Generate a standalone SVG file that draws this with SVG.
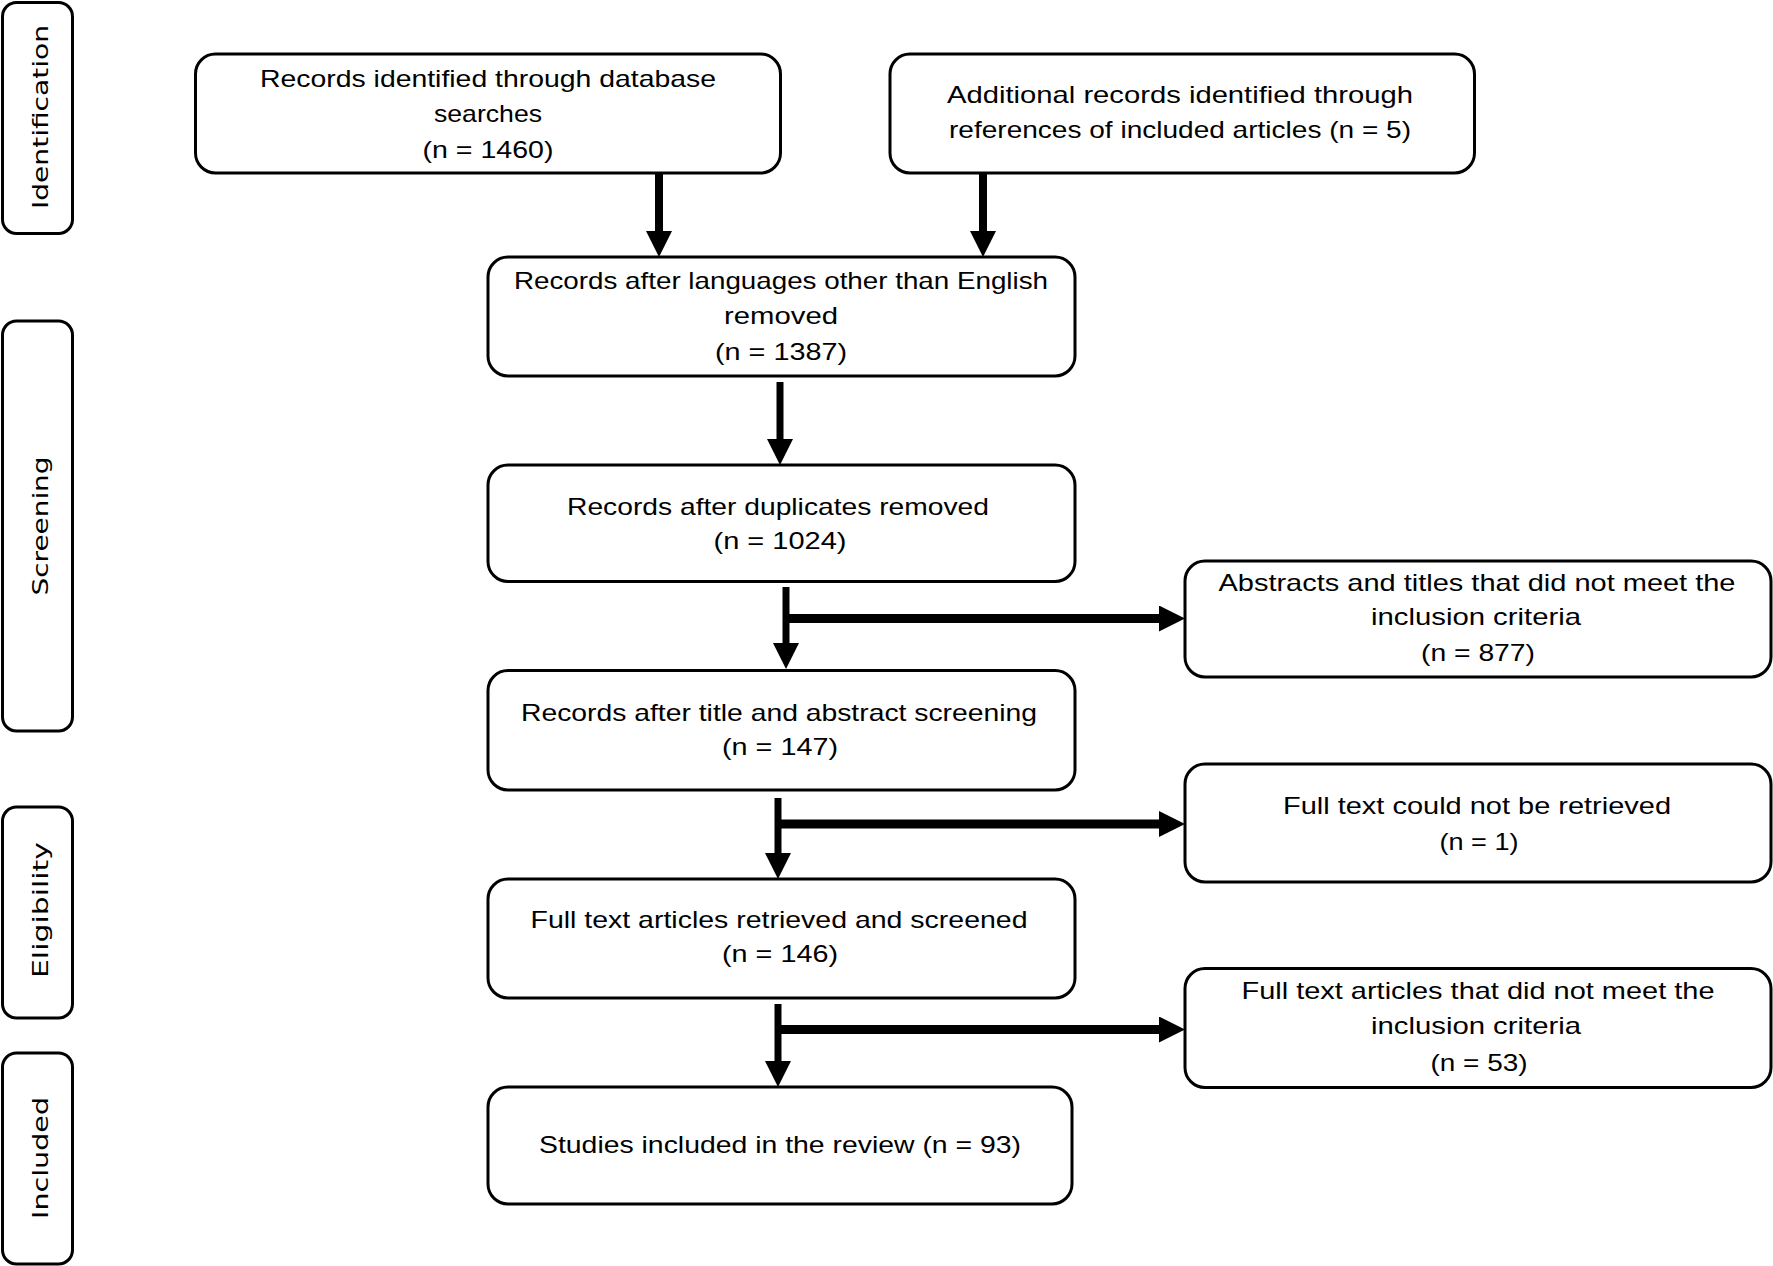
<svg xmlns="http://www.w3.org/2000/svg" width="1773" height="1266" viewBox="0 0 1773 1266">
<style>
.box{fill:#fff;stroke:#000;stroke-width:3}
.side{fill:#fff;stroke:#000;stroke-width:3}
.t{font-family:"Liberation Sans",Arial,sans-serif;font-size:24px;fill:#000;text-anchor:middle}
.s{font-family:"DejaVu Sans",Verdana,sans-serif;font-size:21px;fill:#000;text-anchor:middle}
.c{stroke:#000;fill:none}
</style>
<defs>
<marker id="ah" markerUnits="userSpaceOnUse" markerWidth="27" markerHeight="27" refX="6" refY="13" orient="auto" viewBox="0 0 27 27">
<path d="M0,0 L26,13 L0,26 z" fill="#000"/>
</marker>
</defs>
<rect width="1773" height="1266" fill="#fff"/>

<g id="side-identification">
<rect class="side" x="2.5" y="2.5" width="70" height="231" rx="14"/>
<text class="s" transform="translate(48,117) rotate(-90)" textLength="184" lengthAdjust="spacingAndGlyphs">Identification</text>
</g>
<g id="side-screening">
<rect class="side" x="2.5" y="321" width="70" height="410" rx="14"/>
<text class="s" transform="translate(48,526) rotate(-90)" textLength="139" lengthAdjust="spacingAndGlyphs">Screening</text>
</g>
<g id="side-eligibility">
<rect class="side" x="2.5" y="807" width="70" height="211" rx="14"/>
<text class="s" transform="translate(48,910) rotate(-90)" textLength="136" lengthAdjust="spacingAndGlyphs">Eligibility</text>
</g>
<g id="side-included">
<rect class="side" x="2.5" y="1053" width="70" height="211" rx="14"/>
<text class="s" transform="translate(48,1158) rotate(-90)" textLength="122" lengthAdjust="spacingAndGlyphs">Included</text>
</g>

<g id="connectors">
<line class="c" x1="659" y1="173" x2="659" y2="237" stroke-width="8" marker-end="url(#ah)"/>
<line class="c" x1="983" y1="173" x2="983" y2="237" stroke-width="8" marker-end="url(#ah)"/>
<line class="c" x1="780" y1="382" x2="780" y2="445" stroke-width="7" marker-end="url(#ah)"/>
<line class="c" x1="786" y1="587" x2="786" y2="649" stroke-width="7" marker-end="url(#ah)"/>
<line class="c" x1="786" y1="618.5" x2="1165" y2="618.5" stroke-width="9" marker-end="url(#ah)"/>
<line class="c" x1="778" y1="798" x2="778" y2="859" stroke-width="7" marker-end="url(#ah)"/>
<line class="c" x1="778" y1="824" x2="1165" y2="824" stroke-width="9" marker-end="url(#ah)"/>
<line class="c" x1="778" y1="1004" x2="778" y2="1067" stroke-width="7" marker-end="url(#ah)"/>
<line class="c" x1="778" y1="1029.5" x2="1165" y2="1029.5" stroke-width="9" marker-end="url(#ah)"/>
</g>

<g id="node-database">
<rect class="box" x="195.5" y="54" width="585" height="119" rx="20"/>
<text class="t" x="488" y="87" textLength="456" lengthAdjust="spacingAndGlyphs">Records identified through database</text>
<text class="t" x="488" y="122" textLength="108" lengthAdjust="spacingAndGlyphs">searches</text>
<text class="t" x="488" y="158" textLength="131" lengthAdjust="spacingAndGlyphs">(n = 1460)</text>
</g>
<g id="node-additional">
<rect class="box" x="890" y="54" width="584.5" height="119" rx="20"/>
<text class="t" x="1180" y="103" textLength="466" lengthAdjust="spacingAndGlyphs">Additional records identified through</text>
<text class="t" x="1180" y="138" textLength="462" lengthAdjust="spacingAndGlyphs">references of included articles (n = 5)</text>
</g>
<g id="node-languages">
<rect class="box" x="488" y="257" width="587" height="119" rx="20"/>
<text class="t" x="781" y="289" textLength="534" lengthAdjust="spacingAndGlyphs">Records after languages other than English</text>
<text class="t" x="781" y="324" textLength="114" lengthAdjust="spacingAndGlyphs">removed</text>
<text class="t" x="781" y="360" textLength="132" lengthAdjust="spacingAndGlyphs">(n = 1387)</text>
</g>
<g id="node-duplicates">
<rect class="box" x="488" y="465" width="587" height="116.5" rx="20"/>
<text class="t" x="778" y="515" textLength="422" lengthAdjust="spacingAndGlyphs">Records after duplicates removed</text>
<text class="t" x="780" y="549" textLength="133" lengthAdjust="spacingAndGlyphs">(n = 1024)</text>
</g>
<g id="node-title-abstract">
<rect class="box" x="488" y="670.5" width="587" height="119.5" rx="20"/>
<text class="t" x="779" y="721" textLength="516" lengthAdjust="spacingAndGlyphs">Records after title and abstract screening</text>
<text class="t" x="780" y="755" textLength="116" lengthAdjust="spacingAndGlyphs">(n = 147)</text>
</g>
<g id="node-fulltext">
<rect class="box" x="488" y="879" width="587" height="119" rx="20"/>
<text class="t" x="779" y="928" textLength="497" lengthAdjust="spacingAndGlyphs">Full text articles retrieved and screened</text>
<text class="t" x="780" y="962" textLength="116" lengthAdjust="spacingAndGlyphs">(n = 146)</text>
</g>
<g id="node-included">
<rect class="box" x="488" y="1087" width="584" height="117" rx="20"/>
<text class="t" x="780" y="1153" textLength="482" lengthAdjust="spacingAndGlyphs">Studies included in the review (n = 93)</text>
</g>
<g id="node-excluded-abstracts">
<rect class="box" x="1185" y="561" width="586" height="116" rx="20"/>
<text class="t" x="1477" y="591" textLength="517" lengthAdjust="spacingAndGlyphs">Abstracts and titles that did not meet the</text>
<text class="t" x="1476" y="625" textLength="210" lengthAdjust="spacingAndGlyphs">inclusion criteria</text>
<text class="t" x="1478" y="661" textLength="114" lengthAdjust="spacingAndGlyphs">(n = 877)</text>
</g>
<g id="node-not-retrieved">
<rect class="box" x="1185" y="764" width="586" height="118" rx="20"/>
<text class="t" x="1477" y="814" textLength="388" lengthAdjust="spacingAndGlyphs">Full text could not be retrieved</text>
<text class="t" x="1479" y="850" textLength="79" lengthAdjust="spacingAndGlyphs">(n = 1)</text>
</g>
<g id="node-excluded-fulltext">
<rect class="box" x="1185" y="968.5" width="586" height="119" rx="20"/>
<text class="t" x="1478" y="999" textLength="473" lengthAdjust="spacingAndGlyphs">Full text articles that did not meet the</text>
<text class="t" x="1476" y="1034" textLength="210" lengthAdjust="spacingAndGlyphs">inclusion criteria</text>
<text class="t" x="1479" y="1071" textLength="97" lengthAdjust="spacingAndGlyphs">(n = 53)</text>
</g>
</svg>
